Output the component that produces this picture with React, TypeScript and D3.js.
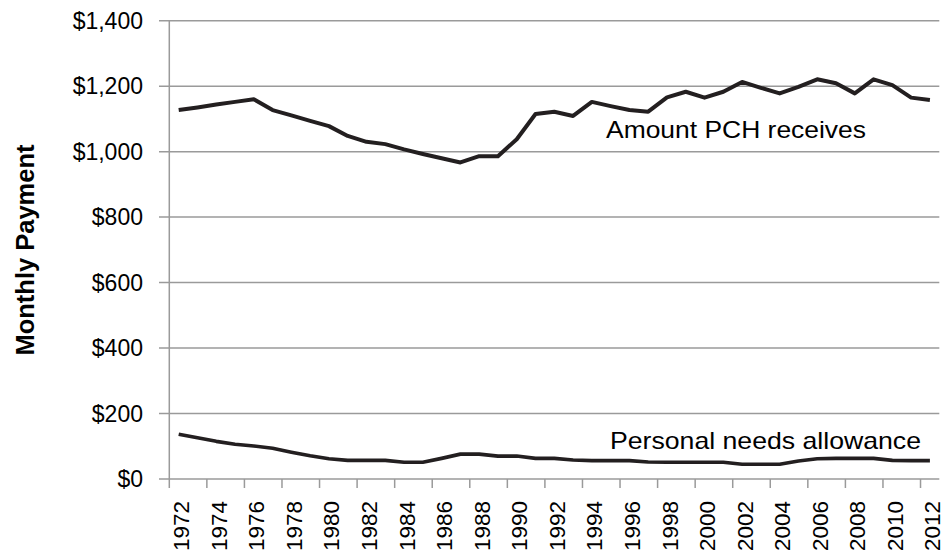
import React, { useEffect, useRef } from "react";
import * as d3 from "d3";

// --- Data
const years = d3.range(1972, 2013).map(String);
const pchReceives = [
  1127, 1135, 1144, 1152, 1160, 1127, 1111, 1094, 1078, 1048, 1030, 1023, 1007, 993,
  980, 967, 986, 986, 1038, 1115, 1122, 1109, 1152, 1139, 1127, 1122, 1166, 1183,
  1165, 1183, 1213, 1195, 1178, 1198, 1221, 1209, 1178, 1221, 1203, 1165, 1158,
];
const personalNeeds = [
  137, 126, 115, 106, 101, 94, 82, 71, 62, 57, 57, 57, 51, 51, 63, 76, 76, 70, 70,
  63, 63, 58, 56, 56, 56, 52, 51, 51, 51, 51, 45, 45, 45, 55, 62, 63, 63, 63, 57,
  56, 56,
];
const yTicks = [0, 200, 400, 600, 800, 1000, 1200, 1400];
const yearLabels = years.filter((_, i) => i % 2 === 0);

const App: React.FC = () => {
  const ref = useRef<SVGSVGElement | null>(null);

  useEffect(() => {
    if (!ref.current) return;
    document.body.style.margin = "0";

    const width = 945;
    const height = 554;
    const font = "'Liberation Sans', Arial, sans-serif";
    const gridColor = "#9a9a9a";

    const svg = d3.select(ref.current).attr("width", width).attr("height", height);
    svg.selectAll("*").remove();

    const x = d3.scaleBand<string>().domain(years).range([169.3, 939.3]).padding(0);
    const y = d3.scaleLinear().domain([0, 1400]).range([479, 20.7]);
    const cx = (d: string) => (x(d) ?? 0) + x.bandwidth() / 2;

    // Gridlines + y ticks
    svg
      .append("g")
      .selectAll("line")
      .data(yTicks)
      .join("line")
      .attr("x1", 159)
      .attr("x2", 939.3)
      .attr("y1", (d) => y(d))
      .attr("y2", (d) => y(d))
      .attr("stroke", gridColor)
      .attr("stroke-width", 1.5);

    // y axis line
    svg
      .append("line")
      .attr("x1", x.range()[0])
      .attr("x2", x.range()[0])
      .attr("y1", y(1400))
      .attr("y2", y(0))
      .attr("stroke", gridColor)
      .attr("stroke-width", 1.5);

    // x ticks at every other category boundary
    svg
      .append("g")
      .selectAll("line")
      .data(yearLabels)
      .join("line")
      .attr("x1", (d) => x(d) ?? 0)
      .attr("x2", (d) => x(d) ?? 0)
      .attr("y1", y(0))
      .attr("y2", y(0) + 9)
      .attr("stroke", gridColor)
      .attr("stroke-width", 1.5);

    // y tick labels
    svg
      .append("g")
      .selectAll("text")
      .data(yTicks)
      .join("text")
      .attr("x", 143)
      .attr("y", (d) => y(d))
      .attr("dy", "0.36em")
      .attr("text-anchor", "end")
      .style("font-family", font)
      .style("font-size", "23px")
      .style("fill", "#000")
      .text((d) => "$" + d3.format(",")(d));

    // x tick labels (rotated)
    svg
      .append("g")
      .selectAll("text")
      .data(yearLabels)
      .join("text")
      .attr("transform", (d) => `translate(${cx(d) + 2},${y(0) + 22}) rotate(-90)`)
      .attr("dy", "0.38em")
      .attr("text-anchor", "end")
      .style("font-family", font)
      .style("font-size", "22.5px")
      .style("fill", "#000")
      .text((d) => d);

    // Y axis title
    svg
      .append("text")
      .attr("transform", `translate(34,${250}) rotate(-90)`)
      .attr("text-anchor", "middle")
      .style("font-family", font)
      .style("font-size", "25.5px")
      .style("font-weight", "bold")
      .style("fill", "#000")
      .text("Monthly Payment");

    // Lines
    const line = d3
      .line<number>()
      .x((_, i) => cx(years[i]))
      .y((d) => y(d));

    svg
      .append("path")
      .datum(pchReceives)
      .attr("d", line)
      .attr("fill", "none")
      .attr("stroke", "#231f20")
      .attr("stroke-width", 4)
      .attr("stroke-linejoin", "round");

    svg
      .append("path")
      .datum(personalNeeds)
      .attr("d", line)
      .attr("fill", "none")
      .attr("stroke", "#231f20")
      .attr("stroke-width", 3.6)
      .attr("stroke-linejoin", "round");

    // Series labels
    svg
      .append("text")
      .attr("x", 606)
      .attr("y", 138)
      .attr("textLength", 260)
      .attr("lengthAdjust", "spacingAndGlyphs")
      .style("font-family", font)
      .style("font-size", "24px")
      .style("fill", "#000")
      .text("Amount PCH receives");

    svg
      .append("text")
      .attr("x", 610)
      .attr("y", 449)
      .attr("textLength", 311)
      .attr("lengthAdjust", "spacingAndGlyphs")
      .style("font-family", font)
      .style("font-size", "24px")
      .style("fill", "#000")
      .text("Personal needs allowance");

    return () => {
      d3.select(ref.current).selectAll("*").remove();
    };
  }, []);

  return <svg ref={ref} style={{ display: "block" }}></svg>;
};

export default App;
